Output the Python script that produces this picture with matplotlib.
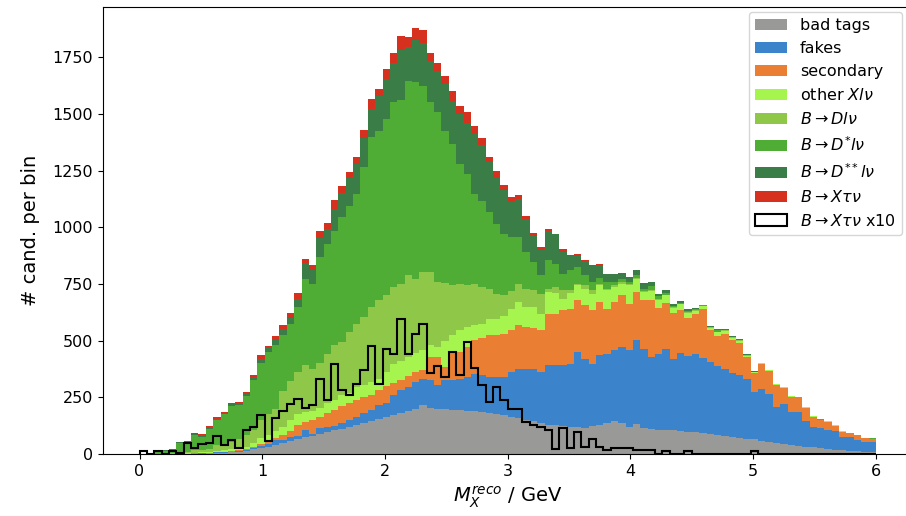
import numpy as np
import matplotlib
matplotlib.use("Agg")
import matplotlib.pyplot as plt

# 100 bins of reconstructed M_X between 0 and 6 GeV
edges = np.linspace(0.0, 6.0, 101)
centers = 0.5 * (edges[:-1] + edges[1:])

bad_tags = [
    0, 0, 0, 0, 0, 1, 1, 1, 2, 3,
    5, 6, 8, 10, 14, 20, 28, 33, 40, 48,
    58, 66, 75, 80, 88, 96, 105, 112, 120, 128,
    138, 146, 155, 165, 172, 180, 188, 200, 215, 205,
    200, 198, 195, 192, 190, 188, 186, 182, 178, 172,
    165, 160, 150, 145, 138, 130, 128, 125, 120, 118,
    115, 122, 128, 135, 145, 138, 120, 132, 114, 112,
    108, 106, 104, 102, 98, 95, 92, 88, 84, 80,
    77, 72, 68, 64, 58, 55, 50, 46, 41, 37,
    33, 29, 26, 22, 19, 16, 14, 12, 10, 9,
]
fakes = [
    0, 0, 0, 0, 0, 0, 0, 1, 1, 1,
    2, 2, 3, 3, 4, 6, 9, 12, 22, 14,
    15, 14, 31, 10, 25, 24, 20, 23, 32, 36,
    41, 48, 61, 60, 88, 102, 108, 118, 114, 121,
    104, 128, 131, 141, 150, 164, 162, 158, 162, 168,
    197, 213, 223, 228, 224, 262, 264, 267, 279, 332,
    306, 277, 308, 308, 313, 334, 338, 373, 351, 316,
    335, 359, 317, 344, 333, 348, 333, 318, 305, 293,
    281, 276, 261, 208, 229, 208, 158, 174, 145, 149,
    114, 88, 87, 84, 82, 60, 59, 50, 44, 45,
]
secondary = [
    0, 0, 0, 0, 0, 0, 0, 1, 1, 2,
    2, 3, 3, 4, 4, 6, 8, 10, 10, 22,
    27, 50, 34, 60, 51, 60, 70, 75, 71, 76,
    73, 68, 66, 75, 55, 44, 49, 42, 41, 102,
    124, 58, 124, 117, 130, 150, 162, 184, 184, 190,
    184, 195, 187, 181, 184, 227, 227, 242, 242, 228,
    235, 235, 234, 198, 212, 228, 205, 209, 213, 250,
    202, 201, 201, 191, 171, 176, 216, 140, 130, 158,
    144, 142, 99, 86, 110, 104, 96, 73, 66, 64,
    58, 47, 37, 36, 24, 22, 18, 20, 15, 13,
]
other_xlnu = [
    0, 0, 0, 0, 1, 2, 2, 3, 3, 4,
    6, 7, 8, 10, 11, 18, 25, 30, 28, 36,
    50, 45, 45, 40, 37, 45, 45, 52, 47, 55,
    52, 56, 48, 60, 80, 84, 85, 85, 90, 52,
    42, 116, 74, 95, 90, 66, 65, 73, 73, 80,
    94, 102, 88, 94, 73, 95, 93, 51, 69, 66,
    73, 73, 74, 81, 66, 51, 81, 56, 36, 40,
    36, 34, 23, 23, 20, 13, 11, 11, 19, 12,
    11, 10, 6, 4, 3, 2, 3, 2, 4, 2,
    2, 4, 2, 2, 2, 2, 2, 2, 2, 1,
]
b_dlnu = [
    0, 1, 2, 3, 3, 6, 7, 11, 10, 14,
    25, 27, 33, 38, 52, 58, 80, 90, 100, 160,
    170, 185, 207, 185, 199, 218, 240, 233, 268, 280,
    300, 332, 351, 340, 341, 341, 358, 328, 342, 322,
    288, 255, 220, 205, 184, 182, 161, 133, 110, 90,
    80, 81, 81, 74, 88, 16, 23, 37, 12, 7,
    15, 15, 7, 7, 8, 7, 4, 5, 4, 4,
    3, 3, 3, 3, 3, 3, 2, 2, 2, 2,
    2, 2, 1, 0, 0, 0, 0, 0, 0, 0,
    0, 0, 0, 0, 0, 0, 0, 0, 0, 0,
]
b_dstarlnu = [
    1, 3, 10, 12, 15, 41, 38, 68, 60, 88,
    111, 131, 158, 152, 169, 218, 250, 273, 280, 245,
    255, 290, 381, 376, 468, 484, 506, 549, 558, 572,
    661, 750, 745, 780, 815, 809, 858, 866, 822, 749,
    749, 671, 624, 530, 492, 397, 382, 336, 308, 271,
    236, 205, 161, 124, 81, 124, 104, 73, 88, 73,
    44, 36, 24, 29, 14, 15, 10, 13, 12, 18,
    11, 9, 7, 5, 7, 5, 3, 3, 5, 3,
    2, 2, 2, 1, 1, 1, 1, 1, 1, 0,
    1, 1, 1, 1, 1, 1, 1, 1, 1, 1,
]
b_dstarstarlnu = [
    0, 0, 1, 1, 2, 4, 3, 4, 5, 5,
    5, 6, 7, 8, 9, 12, 21, 24, 23, 26,
    25, 36, 68, 59, 85, 67, 95, 108, 121, 134,
    127, 120, 152, 173, 173, 224, 150, 186, 191, 184,
    181, 208, 189, 221, 225, 263, 245, 223, 202, 193,
    156, 168, 148, 115, 112, 128, 130, 98, 63, 49,
    63, 71, 58, 35, 34, 25, 19, 23, 22, 19,
    9, 12, 5, 5, 8, 5, 2, 4, 7, 5,
    2, 2, 2, 1, 1, 0, 0, 0, 0, 0,
    0, 0, 0, 0, 0, 0, 0, 0, 0, 0,
]
b_xtaunu = [
    1.2, 0.0, 1.2, 0.0, 1.5, 0.3, 4.8, 2.8, 4.2, 5.0,
    8.0, 4.0, 6.0, 2.8, 10.8, 11.8, 17.0, 5.8, 15.8, 18.8,
    22.2, 24.1, 20.1, 21.6, 32.9, 24.0, 39.9, 28.2, 26.0, 30.8,
    37.0, 47.8, 31.0, 46.5, 44.0, 59.7, 44.0, 53.0, 57.5, 35.7,
    39.0, 33.8, 45.0, 35.0, 49.5, 37.8, 30.6, 23.0, 29.6, 23.8,
    20.0, 19.8, 14.0, 12.8, 11.8, 10.8, 2.1, 11.5, 2.8, 9.5,
    3.3, 6.6, 3.3, 1.8, 2.5, 2.5, 2.5, 1.8, 1.8, 1.8,
    0.0, 1.2, 0.0, 0.0, 1.2, 0.0, 0.0, 0.0, 0.0, 0.0,
    0.0, 0.0, 0.0, 1.2, 0.0, 0.0, 0.0, 0.0, 0.0, 0.0,
    0.0, 0.0, 0.0, 0.0, 0.0, 0.0, 0.0, 0.0, 0.0, 0.0,
]
tau_scale = 10

labels = [
    "bad tags",
    "fakes",
    "secondary",
    r"other $Xl\nu$",
    r"$B\rightarrow Dl\nu$",
    r"$B\rightarrow D^{*}l\nu$",
    r"$B\rightarrow D^{**}l\nu$",
    r"$B\rightarrow X\tau\nu$",
]
tau_label = r"$B\rightarrow X\tau\nu$ x10"
colors = ["#999a97", "#3b84cc", "#ea7f33", "#a6f54f",
          "#8fc748", "#4fad36", "#3a7d47", "#d6301f"]

components = [bad_tags, fakes, secondary, other_xlnu, b_dlnu,
              b_dstarlnu, b_dstarstarlnu, b_xtaunu]

plt.rcParams["font.size"] = 11.5

fig = plt.figure(figsize=(9.06, 5.16), dpi=100)
ax = fig.add_axes([102.7 / 906, 62 / 516, 810 / 906, 447 / 516])

ax.hist([centers] * len(components), bins=edges,
        weights=[np.asarray(c, dtype=float) for c in components],
        stacked=True, histtype="stepfilled", color=colors, label=labels,
        linewidth=0)
ax.hist(centers, bins=edges, weights=np.asarray(b_xtaunu) * tau_scale,
        histtype="step", color="black", linewidth=1.5, label=tau_label)

ax.set_xlim(-0.3, 6.3)
ax.set_ylim(0, 1972)
ax.set_xticks(range(0, 7))
ax.set_yticks(range(0, 2000, 250))
ax.set_xlabel(r"$M_X^{reco}$ / GeV", fontsize=14, labelpad=4)
ax.set_ylabel("# cand. per bin", fontsize=14, labelpad=9)

handles, hlabels = ax.get_legend_handles_labels()
order = labels + [tau_label]
lookup = dict(zip(hlabels, handles))
ax.legend([lookup[l] for l in order], order, loc="upper right",
          bbox_to_anchor=(902 / 906, 1 - 12 / 516),
          bbox_transform=fig.transFigure, borderaxespad=0.0)

fig.savefig("out.png", dpi=100)
